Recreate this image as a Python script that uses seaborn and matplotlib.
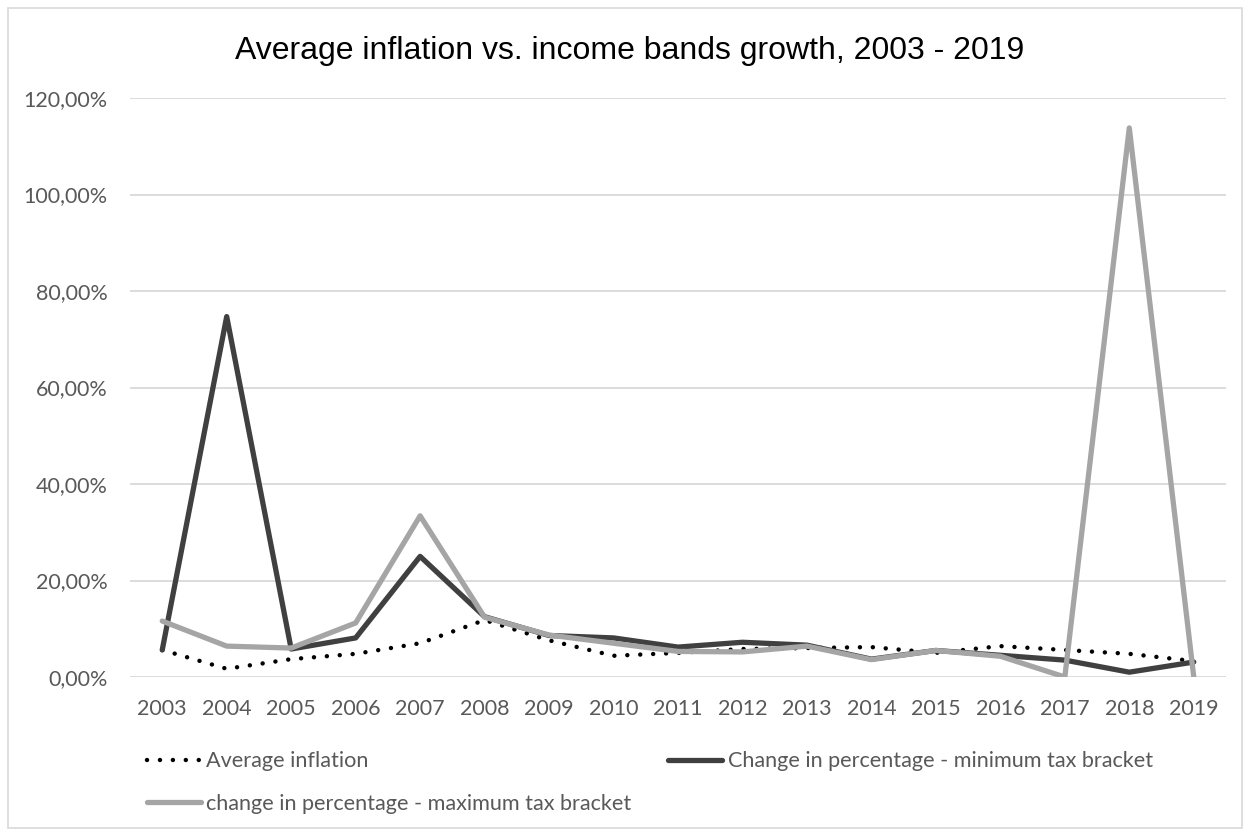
import matplotlib
matplotlib.use("Agg")
import matplotlib.pyplot as plt
import seaborn as sns
import pandas as pd
from matplotlib.patches import Rectangle
from matplotlib.ticker import FuncFormatter

years = list(range(2003, 2020))
avg_inflation = [5.6, 1.7, 3.7, 4.8, 7.0, 11.8, 7.6, 4.4, 5.0, 5.8, 6.0, 6.2, 5.0, 6.4, 5.6, 4.8, 3.3]
min_bracket = [5.6, 74.7, 5.8, 8.1, 25.0, 12.5, 8.6, 8.1, 6.2, 7.2, 6.6, 3.7, 5.5, 4.5, 3.5, 1.0, 3.1]
max_bracket = [11.6, 6.4, 6.0, 11.2, 33.4, 12.4, 8.7, 7.0, 5.3, 5.2, 6.4, 3.6, 5.5, 4.3, 0.0, 113.8, 0.0]

labels = ["Average inflation",
          "Change in percentage - minimum tax bracket",
          "change in percentage - maximum tax bracket"]
title = "Average inflation vs. income bands growth, 2003 - 2019"

df = pd.DataFrame({"year": years, labels[0]: avg_inflation,
                   labels[1]: min_bracket, labels[2]: max_bracket})

sns.set_theme(style="white")
plt.rcParams["font.family"] = ["Lato", "DejaVu Sans"]

fig = plt.figure(figsize=(12.52, 8.36), dpi=100)
W, H = 1252, 836
ax = fig.add_axes([130 / W, 1 - 677 / H, (1226 - 130) / W, (677 - 98) / H])

sns.lineplot(data=df, x="year", y=labels[0], ax=ax, color="black", lw=3.2,
             linestyle=(0, (0.01, 2.9)), dash_capstyle="round", label=labels[0])
sns.lineplot(data=df, x="year", y=labels[1], ax=ax, color="#404040", lw=3.8,
             label=labels[1])
sns.lineplot(data=df, x="year", y=labels[2], ax=ax, color="#a5a5a5", lw=3.8,
             label=labels[2])

ax.set_xlim(2002.5, 2019.5)
ax.set_ylim(0, 120)
ax.set_xticks(years)
ax.set_xticklabels([str(y) for y in years])
ax.set_yticks(range(0, 121, 20))
ax.yaxis.set_major_formatter(FuncFormatter(lambda v, p: f"{v:.2f}%".replace(".", ",")))
ax.grid(axis="y", color="#d9d9d9", lw=1.3)
ax.grid(axis="x", visible=False)
for s in ax.spines.values():
    s.set_visible(False)
ax.tick_params(axis="both", length=0, labelsize=15.5, colors="#595959")
ax.tick_params(axis="y", pad=16)
ax.tick_params(axis="x", pad=16)
ax.set_xlabel("")
ax.set_ylabel("")

handles, lbls = ax.get_legend_handles_labels()
order = [0, 2, 1]
ax.legend([handles[i] for i in order], [lbls[i] for i in order], ncol=2,
          loc="upper left", bbox_to_anchor=(8 / 1096, -0.113), frameon=False,
          fontsize=15.6, labelcolor="#595959", handlelength=2.5, handletextpad=0.25,
          columnspacing=1.7, labelspacing=1.05, borderaxespad=0)

fig.text(0.503, 1 - 51 / H, title, ha="center", va="center", fontsize=23,
         family=["Liberation Sans", "DejaVu Sans"], color="black")

fig.patches.append(Rectangle((8 / W, 8 / H), 1234 / W, 820 / H, transform=fig.transFigure,
                             fill=False, edgecolor="#d9d9d9", lw=1.2))

fig.savefig("out.png", dpi=100, facecolor="white")
